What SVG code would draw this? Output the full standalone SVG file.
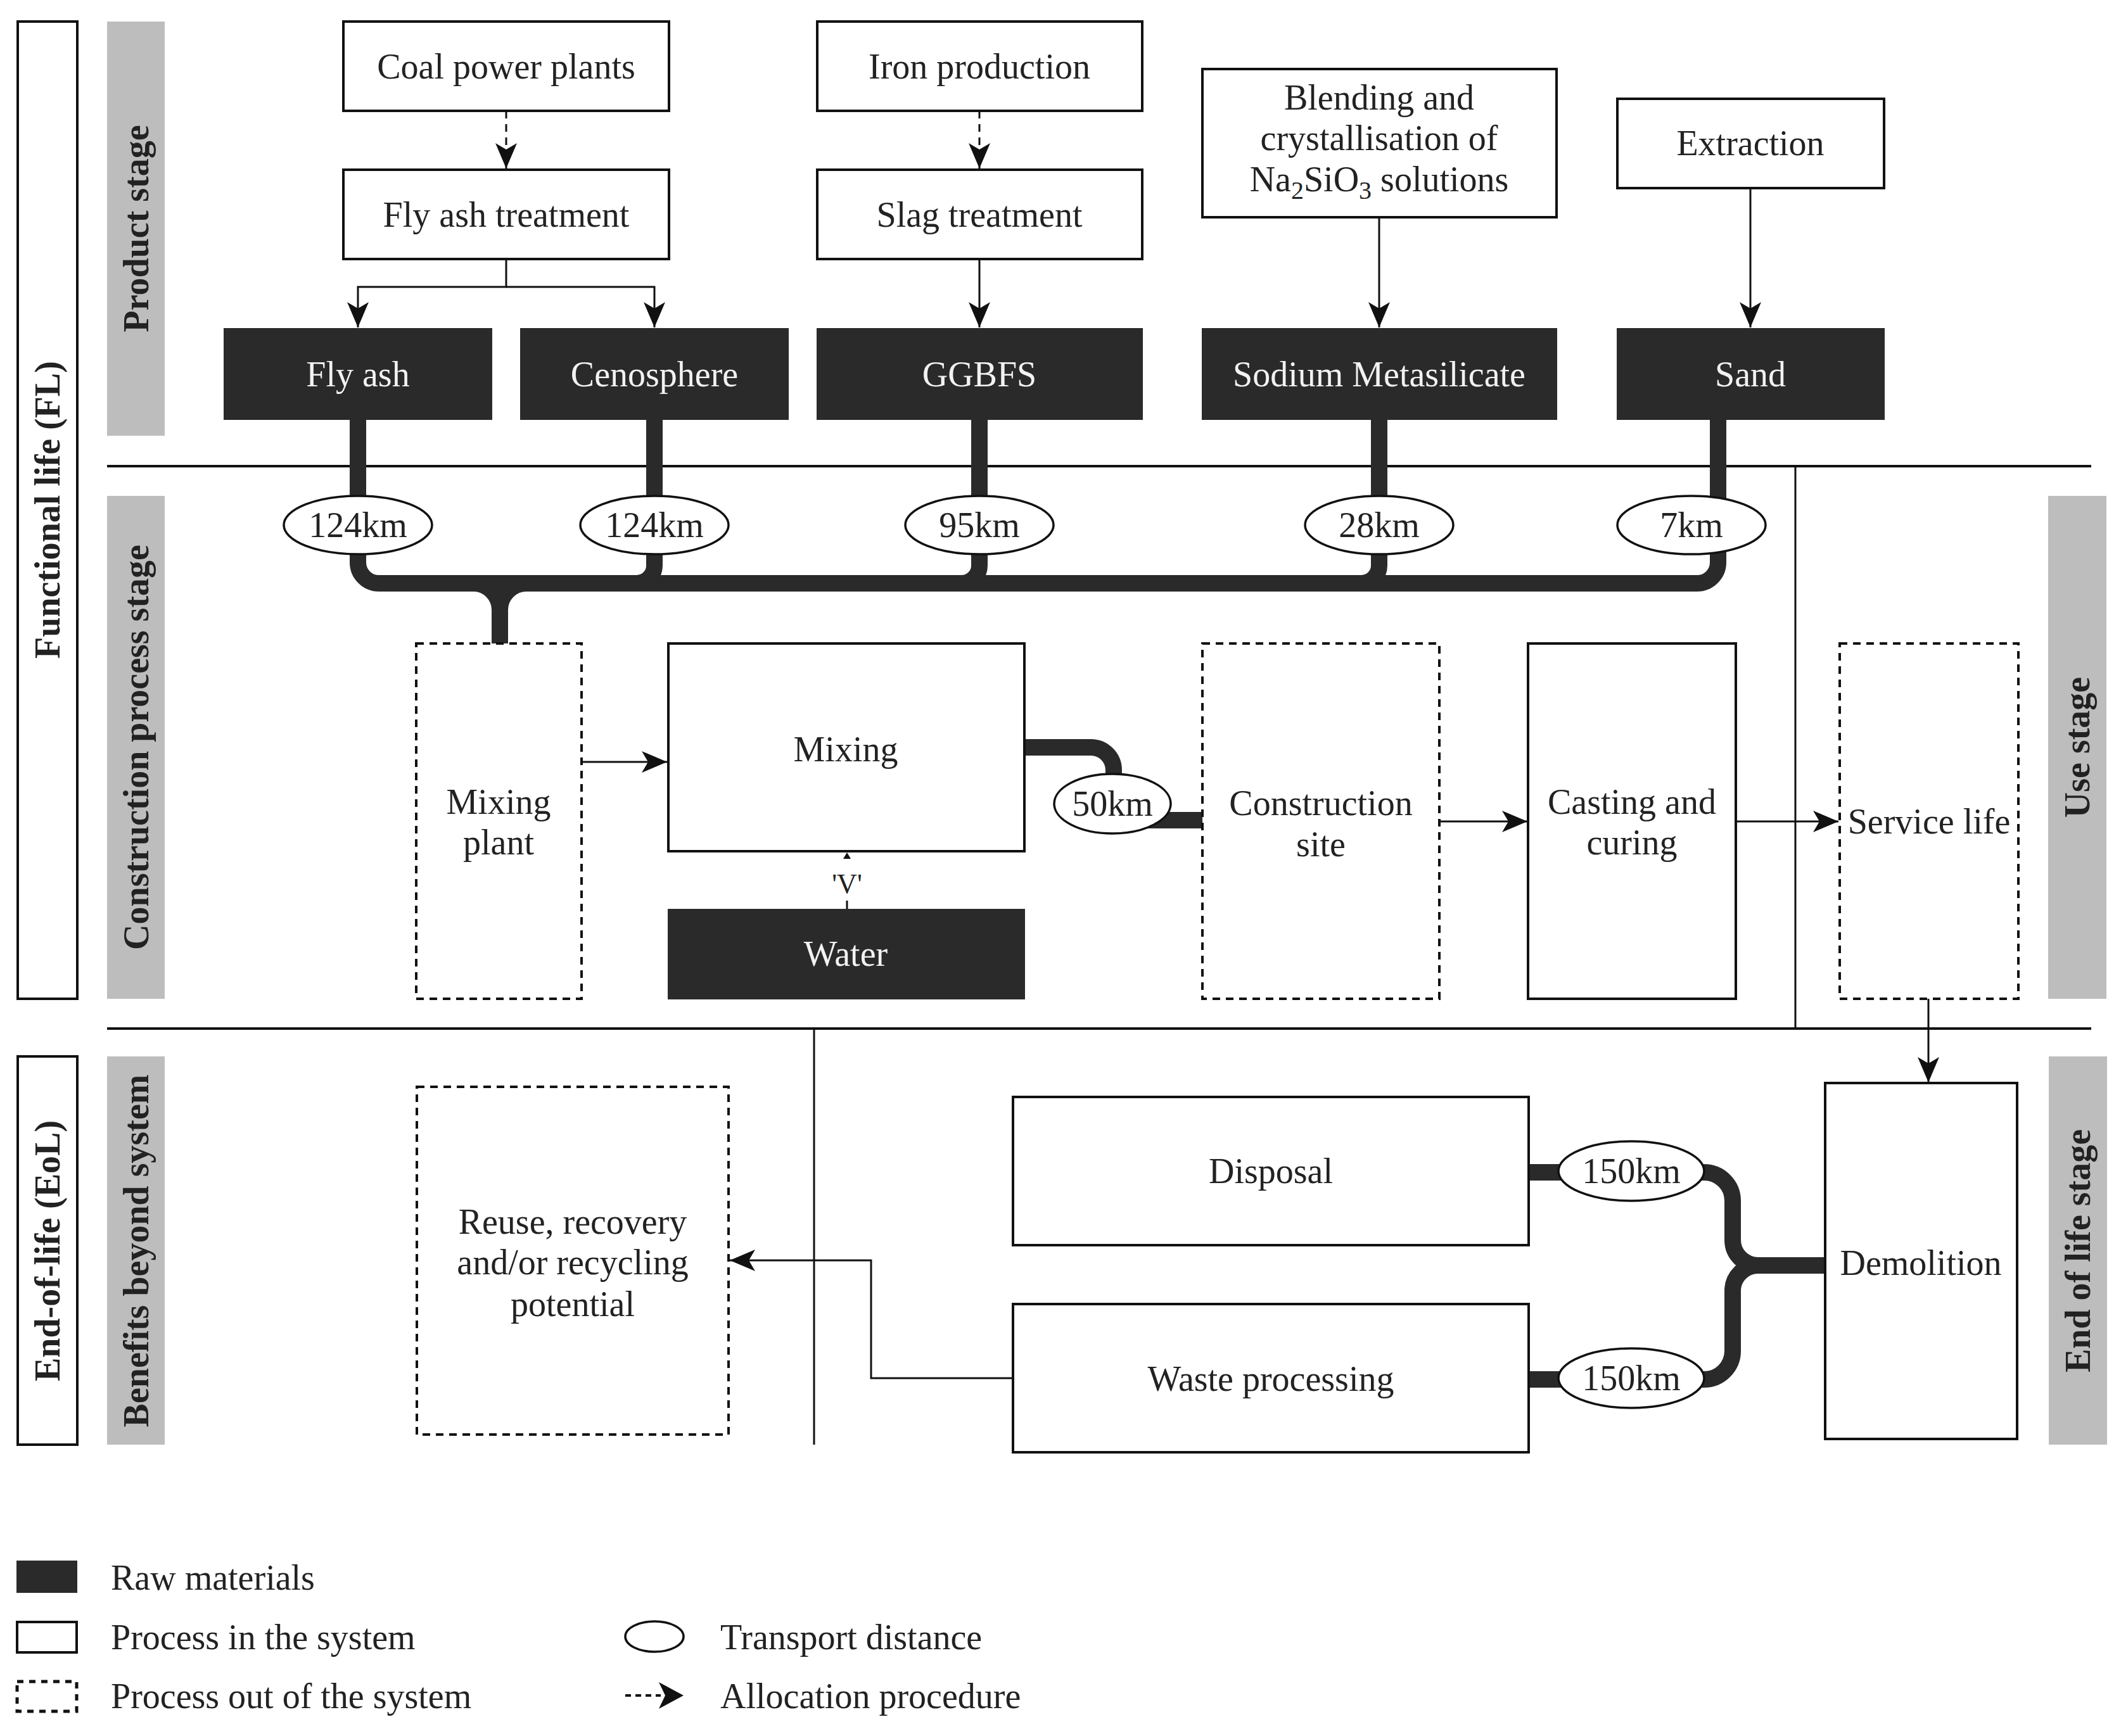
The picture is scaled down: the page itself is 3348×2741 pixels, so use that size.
<svg xmlns="http://www.w3.org/2000/svg" width="3348" height="2741" viewBox="0 0 3348 2741">
<style>
text{font-family:"Liberation Serif","Times New Roman",serif;font-size:56px;fill:#222;text-anchor:middle}
.w{fill:#f2f2f2}
.b{font-weight:bold}
.lg{text-anchor:start}
.box{fill:#fff;stroke:#111;stroke-width:4}
.dbox{fill:#fff;stroke:#111;stroke-width:4;stroke-dasharray:12 9}
.raw{fill:#2a2a2a;stroke:#2a2a2a;stroke-width:2}
.bar{fill:#bdbdbd}
.sep{fill:none;stroke:#111;stroke-width:4}
.thin{fill:none;stroke:#111;stroke-width:3}
.arr{fill:none;stroke:#111;stroke-width:3;marker-end:url(#ah)}
.darr{fill:none;stroke:#111;stroke-width:3;stroke-dasharray:12 9;marker-end:url(#ah)}
.thick{fill:none;stroke:#2a2a2a;stroke-width:26;stroke-linejoin:round}
.ell{fill:#fff;stroke:#111;stroke-width:3.5}
</style>
<defs>
<marker id="ah" markerUnits="userSpaceOnUse" markerWidth="42" markerHeight="36" refX="40" refY="17" orient="auto">
<path d="M0,0 L40,17 L0,34 L10,17 Z" fill="#111"/>
</marker>
</defs>

<g id="frame">
<rect x="28" y="34" width="94" height="1543" fill="none" stroke="#111" stroke-width="4"/>
<rect x="28" y="1668" width="94" height="613" fill="none" stroke="#111" stroke-width="4"/>
<rect class="bar" x="169" y="34" width="91" height="654"/>
<rect class="bar" x="169" y="783" width="91" height="794"/>
<rect class="bar" x="169" y="1668" width="91" height="613"/>
<rect class="bar" x="3233" y="783" width="92" height="794"/>
<rect class="bar" x="3234" y="1668" width="92" height="613"/>
<path class="sep" d="M169,736 H3301 M169,1624 H3301"/>
<path class="thin" d="M2834,736 V1624 M1285,1624 V2281"/>
<text class="b" transform="translate(94,805) rotate(-90)">Functional life (FL)</text>
<text class="b" transform="translate(94,1975) rotate(-90)">End-of-life (EoL)</text>
<text class="b" transform="translate(234,361) rotate(-90)">Product stage</text>
<text class="b" transform="translate(234,1180) rotate(-90)">Construction process stage</text>
<text class="b" transform="translate(234,1975) rotate(-90)">Benefits beyond system</text>
<text class="b" transform="translate(3298,1180) rotate(-90)">Use stage</text>
<text class="b" transform="translate(3299,1975) rotate(-90)">End of life stage</text>
</g>

<g id="connectors">
<path class="darr" d="M799,175 V266"/>
<path class="arr" d="M799,409 V453 H565 V517"/>
<path class="arr" d="M799,453 H1033 V517"/>
<path class="darr" d="M1546,175 V266"/>
<path class="arr" d="M1546,409 V517"/>
<path class="arr" d="M2177,343 V517"/>
<path class="arr" d="M2763,297 V517"/>
<path class="thick" d="M565,662 V888 A33,33 0 0 0 598,921 H2679 A33,33 0 0 0 2712,888 V662"/>
<path class="thick" d="M1033,662 V893 A28,28 0 0 1 1005,921"/>
<path class="thick" d="M1546,662 V893 A28,28 0 0 1 1518,921"/>
<path class="thick" d="M2177,662 V893 A28,28 0 0 1 2149,921"/>
<path class="thick" d="M747,921 A42,42 0 0 1 789,963 V1016 M831,921 A42,42 0 0 0 789,963"/>
<path class="arr" d="M918,1203 H1053"/>
<path class="thick" d="M1616,1180 H1722 A36,36 0 0 1 1758,1216 V1250"/>
<path class="thick" d="M1800,1295 H1898"/>
<path class="arr" d="M2272,1297 H2411"/>
<path class="arr" d="M2740,1297 H2902"/>
<path class="arr" d="M3044,1577 V1709"/>
<path class="thick" d="M2413,1851 H2500 M2640,1851 H2690 A45,45 0 0 1 2735,1896 V1958 A40,40 0 0 0 2775,1998 H2881"/>
<path class="thick" d="M2413,2178 H2500 M2640,2178 H2690 A45,45 0 0 0 2735,2133 V2038 A40,40 0 0 1 2775,1998"/>
<path class="arr" d="M1599,2176 H1375 V1990 H1152"/>
<path class="thin" d="M1337,1436 V1422"/>
<path d="M1331,1356 L1337,1346 L1343,1356 Z" fill="#111"/>
<text x="1337" y="1410" style="font-size:44px">'V'</text>
</g>

<g id="coal"><rect class="box" x="542" y="34" width="514" height="141"/><text x="799" y="124">Coal power plants</text></g>
<g id="flyash-treatment"><rect class="box" x="542" y="268" width="514" height="141"/><text x="799" y="358">Fly ash treatment</text></g>
<g id="iron"><rect class="box" x="1290" y="34" width="513" height="141"/><text x="1546" y="124">Iron production</text></g>
<g id="slag"><rect class="box" x="1290" y="268" width="513" height="141"/><text x="1546" y="358">Slag treatment</text></g>
<g id="blending"><rect class="box" x="1898" y="109" width="559" height="234"/>
<text x="2177" y="173">Blending and</text>
<text x="2177" y="237">crystallisation of</text>
<text x="2177" y="302">Na<tspan style="font-size:40px" dy="12">2</tspan><tspan dy="-12">SiO</tspan><tspan style="font-size:40px" dy="12">3</tspan><tspan dy="-12"> solutions</tspan></text></g>
<g id="extraction"><rect class="box" x="2553" y="156" width="421" height="141"/><text x="2763" y="245">Extraction</text></g>

<g id="flyash"><rect class="raw" x="354" y="519" width="422" height="143"/><text class="w" x="565" y="610">Fly ash</text></g>
<g id="cenosphere"><rect class="raw" x="822" y="519" width="422" height="143"/><text class="w" x="1033" y="610">Cenosphere</text></g>
<g id="ggbfs"><rect class="raw" x="1290" y="519" width="513" height="143"/><text class="w" x="1546" y="610">GGBFS</text></g>
<g id="sodium"><rect class="raw" x="1898" y="519" width="559" height="143"/><text class="w" x="2177" y="610">Sodium Metasilicate</text></g>
<g id="sand"><rect class="raw" x="2553" y="519" width="421" height="143"/><text class="w" x="2763" y="610">Sand</text></g>

<g id="d1"><ellipse class="ell" cx="565" cy="829" rx="117" ry="46"/><text x="565" y="848">124km</text></g>
<g id="d2"><ellipse class="ell" cx="1033" cy="829" rx="117" ry="46"/><text x="1033" y="848">124km</text></g>
<g id="d3"><ellipse class="ell" cx="1546" cy="829" rx="117" ry="46"/><text x="1546" y="848">95km</text></g>
<g id="d4"><ellipse class="ell" cx="2177" cy="829" rx="117" ry="46"/><text x="2177" y="848">28km</text></g>
<g id="d5"><ellipse class="ell" cx="2670" cy="829" rx="117" ry="46"/><text x="2670" y="848">7km</text></g>

<g id="mixing-plant"><rect class="dbox" x="657" y="1016" width="261" height="561"/><text x="787" y="1285">Mixing</text><text x="787" y="1349">plant</text></g>
<g id="mixing"><rect class="box" x="1055" y="1016" width="562" height="328"/><text x="1335" y="1202">Mixing</text></g>
<g id="water"><rect class="raw" x="1055" y="1436" width="562" height="141"/><text class="w" x="1335" y="1525">Water</text></g>
<g id="d6"><ellipse class="ell" cx="1756" cy="1269" rx="92" ry="47"/><text x="1756" y="1288">50km</text></g>
<g id="construction-site"><rect class="dbox" x="1898" y="1016" width="374" height="561"/><text x="2085" y="1287">Construction</text><text x="2085" y="1352">site</text></g>
<g id="casting"><rect class="box" x="2412" y="1016" width="328" height="561"/><text x="2576" y="1285">Casting and</text><text x="2576" y="1349">curing</text></g>
<g id="service-life"><rect class="dbox" x="2904" y="1016" width="282" height="561"/><text x="3045" y="1316">Service life</text></g>

<g id="reuse"><rect class="dbox" x="658" y="1716" width="492" height="549"/><text x="904" y="1948">Reuse, recovery</text><text x="904" y="2012">and/or recycling</text><text x="904" y="2078">potential</text></g>
<g id="disposal"><rect class="box" x="1599" y="1732" width="814" height="234"/><text x="2006" y="1868">Disposal</text></g>
<g id="waste"><rect class="box" x="1599" y="2059" width="814" height="234"/><text x="2006" y="2196">Waste processing</text></g>
<g id="d7"><ellipse class="ell" cx="2575" cy="1849" rx="115" ry="47"/><text x="2575" y="1868">150km</text></g>
<g id="d8"><ellipse class="ell" cx="2575" cy="2176" rx="115" ry="47"/><text x="2575" y="2195">150km</text></g>
<g id="demolition"><rect class="box" x="2881" y="1710" width="303" height="562"/><text x="3032" y="2013">Demolition</text></g>

<g id="legend">
<rect class="raw" x="27" y="2465" width="94" height="49"/>
<text class="lg" x="175" y="2510">Raw materials</text>
<rect class="box" x="27" y="2561" width="94" height="48"/>
<text class="lg" x="175" y="2604">Process in the system</text>
<rect x="27" y="2655" width="94" height="47" fill="#fff" stroke="#111" stroke-width="5" stroke-dasharray="10 9"/>
<text class="lg" x="175" y="2697">Process out of the system</text>
<ellipse class="ell" cx="1033" cy="2584" rx="46" ry="24"/>
<text class="lg" x="1137" y="2604">Transport distance</text>
<path d="M987,2677 H1043" fill="none" stroke="#111" stroke-width="4" stroke-dasharray="9 7"/>
<path d="M1040,2656 L1079,2677 L1040,2698 L1050,2677 Z" fill="#111"/>
<text class="lg" x="1137" y="2697">Allocation procedure</text>
</g>
</svg>
